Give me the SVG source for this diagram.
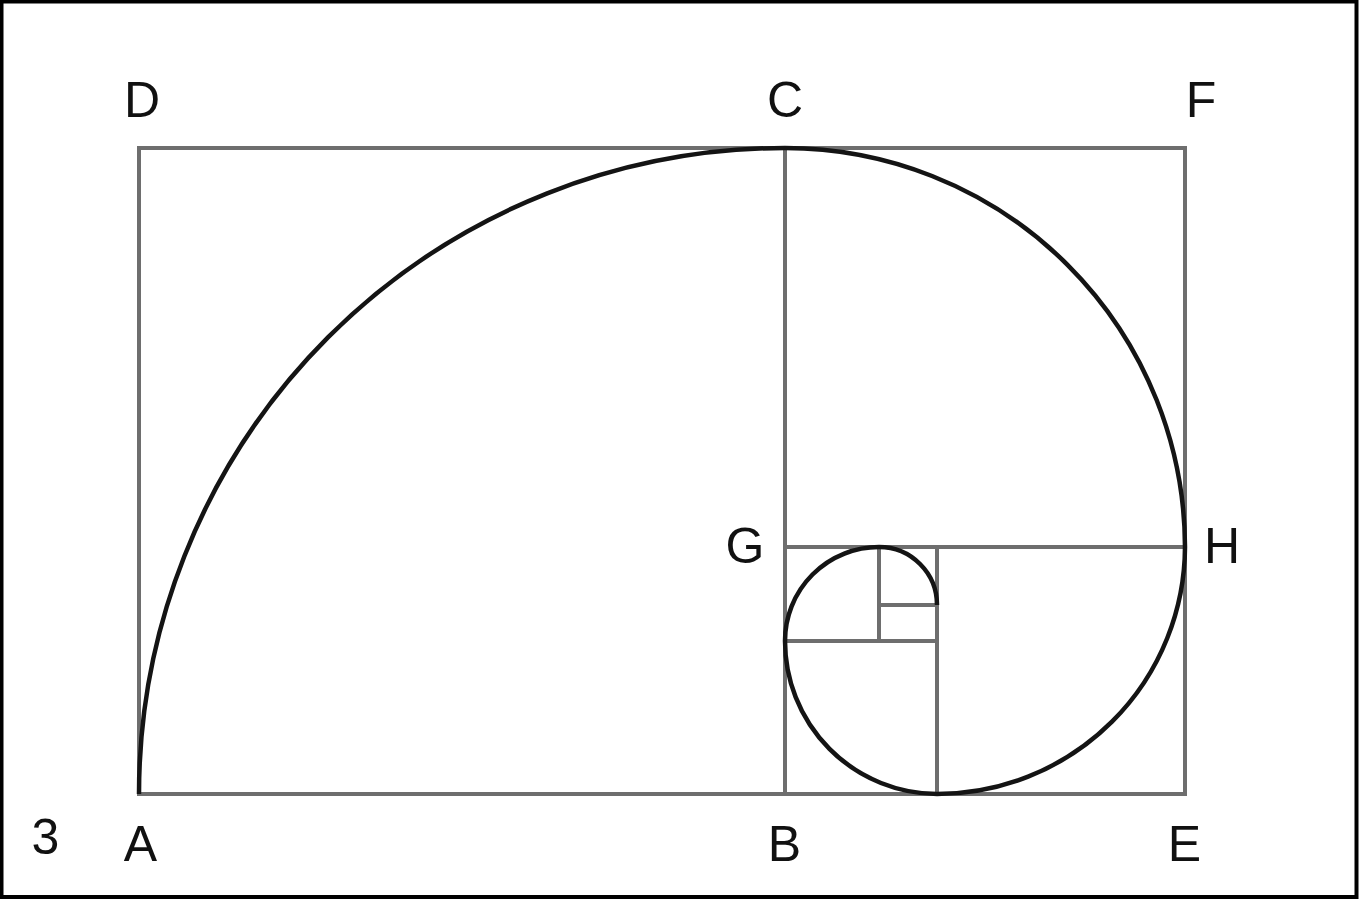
<svg xmlns="http://www.w3.org/2000/svg" width="1359" height="899" viewBox="0 0 1359 899">
  <style>
    .grid { fill: none; stroke: #6e6e6e; stroke-width: 4; }
    .spiral { fill: none; stroke: #141414; stroke-width: 4.5; }
    .lbl { font-family: "Liberation Sans", Arial, sans-serif; font-size: 50px; fill: #111; text-anchor: middle; }
  </style>
  <rect x="0" y="0" width="1359" height="899" fill="#ffffff"/>
  <rect x="1.5" y="1.5" width="1355" height="895.5" fill="none" stroke="#000" stroke-width="4"/>
  <g id="grid">
    <rect class="grid" x="139" y="148" width="1046" height="646"/>
    <line class="grid" x1="785" y1="148" x2="785" y2="794"/>
    <line class="grid" x1="785" y1="547" x2="1185" y2="547"/>
    <line class="grid" x1="937" y1="547" x2="937" y2="794"/>
    <line class="grid" x1="785" y1="641" x2="937" y2="641"/>
    <line class="grid" x1="879" y1="547" x2="879" y2="641"/>
    <line class="grid" x1="879" y1="605" x2="937" y2="605"/>
  </g>
  <g id="spiral">
    <path class="spiral" d="M139,794 A646,646 0 0 1 785,148 A400,400 0 0 1 1185,547 A248,248 0 0 1 937,794 A153,153 0 0 1 785,641 A94,94 0 0 1 879,547 A58,58 0 0 1 937,605"/>
  </g>
  <g id="labels">
    <text class="lbl" x="142" y="117">D</text>
    <text class="lbl" x="785" y="117">C</text>
    <text class="lbl" x="1201" y="117">F</text>
    <text class="lbl" x="745" y="563">G</text>
    <text class="lbl" x="1222" y="563">H</text>
    <text class="lbl" x="140.5" y="861">A</text>
    <text class="lbl" x="784.5" y="861">B</text>
    <text class="lbl" x="1184.5" y="861">E</text>
    <text class="lbl" x="45.5" y="854">3</text>
  </g>
</svg>
